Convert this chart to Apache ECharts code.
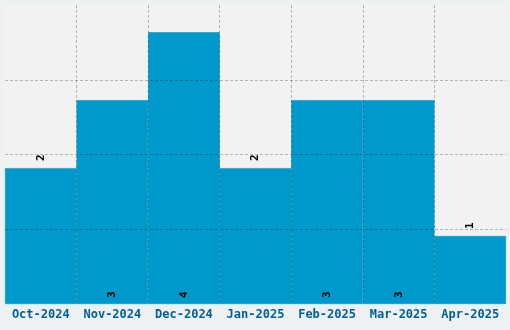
<!DOCTYPE html>
<html><head><meta charset="utf-8">
<script src="https://cdn.jsdelivr.net/npm/echarts@6/dist/echarts.min.js"></script>
<style>html,body{margin:0;padding:0;background:#eef1f2;}#c{width:510px;height:330px;}</style>
</head><body><div id="c"></div>
<script>
const categories = ['Oct-2024','Nov-2024','Dec-2024','Jan-2025','Feb-2025','Mar-2025','Apr-2025'];
const values = [2,3,4,2,3,3,1];
const labelPositions = ['top','insideBottom','insideBottom','top','insideBottom','insideBottom','top'];

const chart = echarts.init(document.getElementById('c'));
const font = '"DejaVu Sans Mono", monospace';
chart.setOption({
  backgroundColor: '#eef1f2',
  animation: false,
  grid: {left: 5, right: 4, top: 5, bottom: 26, show: true, backgroundColor: '#f2f2f2', borderWidth: 0},
  xAxis: {
    type: 'category', data: categories, z: 5,
    axisLine: {show: false}, axisTick: {show: false},
    axisLabel: {interval: 0, hideOverlap: false, color: '#00609a', fontFamily: font, fontWeight: 'bold', fontSize: 12, margin: 5},
    splitLine: {show: true, interval: 0, showMinLine: false, showMaxLine: false, lineStyle: {color: 'rgba(0,0,0,0.25)', type: [3,2], width: 1}}
  },
  yAxis: {
    type: 'value', min: 0, max: 4.4, interval: 1.1, z: 5,
    axisLine: {show: false}, axisTick: {show: false}, axisLabel: {show: false},
    splitLine: {show: true, showMinLine: false, showMaxLine: false, lineStyle: {color: 'rgba(0,0,0,0.25)', type: [3,2], width: 1}}
  },
  series: [{
    type: 'bar', barCategoryGap: 0, z: 2,
    itemStyle: {color: '#0099cc', borderColor: '#0099cc', borderWidth: 0.6},
    data: values.map((v, i) => ({
      value: v,
      label: {show: true, position: labelPositions[i], distance: labelPositions[i] === 'top' ? 7 : 6,
        rotate: 90, align: 'left', verticalAlign: 'middle', color: '#000', fontFamily: font, fontWeight: 'bold', fontSize: 11}
    }))
  }]
});
</script></body></html>
